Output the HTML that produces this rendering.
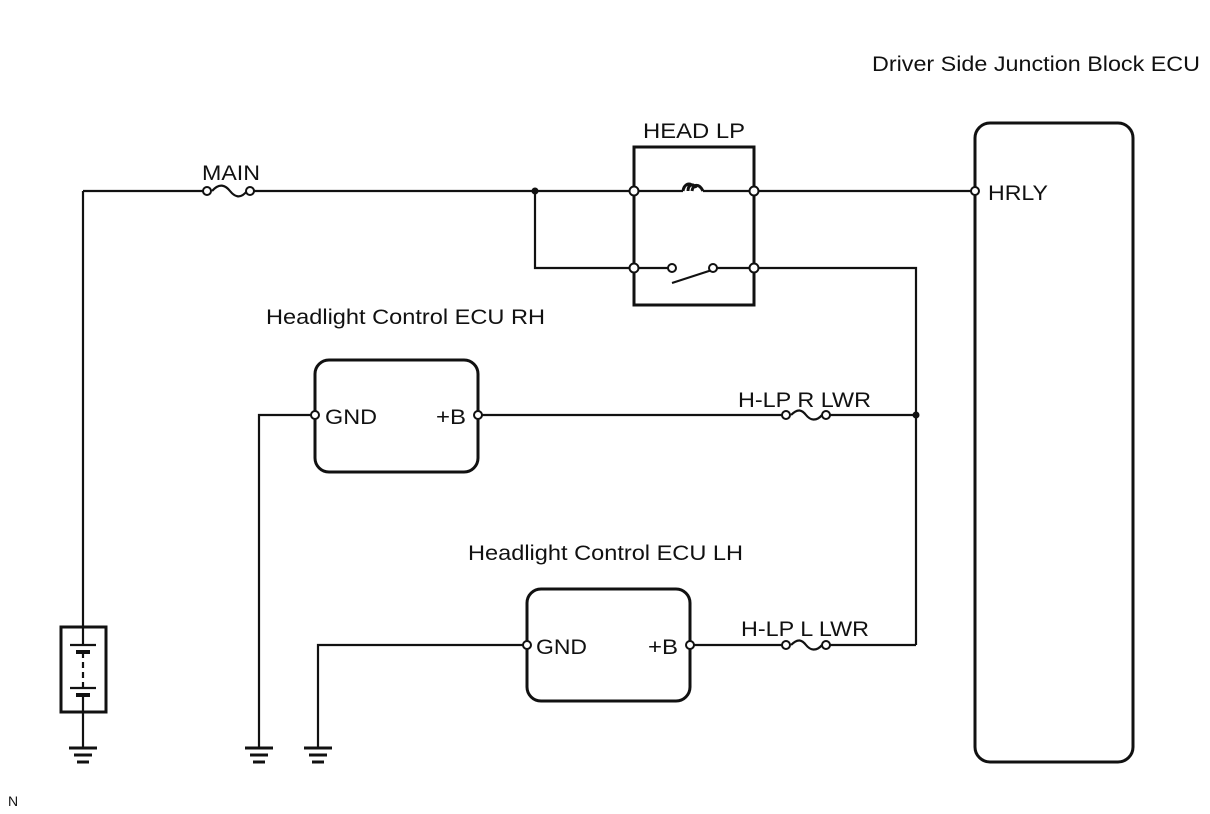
<!DOCTYPE html>
<html><head><style>
body{margin:0;background:#fff;}
svg{display:block;}
text{font-family:"Liberation Sans",Arial,sans-serif;font-size:21px;fill:#111;}
</style></head><body>
<svg width="1210" height="814" viewBox="0 0 1210 814" xmlns="http://www.w3.org/2000/svg">
<g stroke="#111" stroke-width="2.2" fill="none">
<line x1="83" y1="191" x2="203" y2="191"/>
<line x1="254" y1="191" x2="630" y2="191"/>
<line x1="638" y1="191" x2="683" y2="191"/>
<line x1="703" y1="191" x2="750" y2="191"/>
<line x1="758" y1="191" x2="971" y2="191"/>
<line x1="83" y1="191" x2="83" y2="748"/>
<path d="M212,191 C220,182 226,186 230,191 C234,196 240,200 247,191"/>
<polyline points="535,191 535,268 630,268"/>
<line x1="638" y1="268" x2="668" y2="268"/>
<line x1="717" y1="268" x2="750" y2="268"/>
<line x1="672" y1="283" x2="712" y2="270"/>
<polyline points="758,268 916,268 916,645"/>
<rect x="634" y="147" width="120" height="158" stroke-width="3"/>
<path d="M683,191 C684,184 690,182 692,186 M688,191 C688,184 694,183 696,188 M692,191 C693,184 699,183 703,191" stroke-width="3"/>
<line x1="482" y1="415" x2="782" y2="415"/>
<path d="M791,415 C798,408 802,410 806,415 C810,420 816,422 822,415"/>
<line x1="830" y1="415" x2="916" y2="415"/>
<rect x="315" y="360" width="163" height="112" rx="14" stroke-width="3"/>
<polyline points="311,415 259,415 259,748"/>
<line x1="694" y1="645" x2="782" y2="645"/>
<path d="M791,645 C798,638 802,640 806,645 C810,650 816,652 822,645"/>
<line x1="830" y1="645" x2="916" y2="645"/>
<rect x="527" y="589" width="163" height="112" rx="14" stroke-width="3"/>
<polyline points="523,645 318,645 318,748"/>
<rect x="975" y="123" width="158" height="639" rx="15" stroke-width="3"/>
<rect x="61" y="627" width="45" height="85" stroke-width="3" fill="#fff"/>
<line x1="83" y1="627" x2="83" y2="645"/>
<line x1="70" y1="645" x2="96" y2="645"/>
<line x1="76" y1="652" x2="90" y2="652" stroke-width="4"/>
<line x1="83" y1="652" x2="83" y2="688" stroke-dasharray="6,4"/>
<line x1="70" y1="688" x2="96" y2="688"/>
<line x1="76" y1="695" x2="90" y2="695" stroke-width="4"/>
<line x1="83" y1="695" x2="83" y2="712"/>
</g>
<g stroke="#111" stroke-width="3">
<line x1="69" y1="748" x2="97" y2="748"/><line x1="74" y1="755" x2="92" y2="755"/><line x1="77" y1="762" x2="89" y2="762"/>
<line x1="245" y1="748" x2="273" y2="748"/><line x1="250" y1="755" x2="268" y2="755"/><line x1="253" y1="762" x2="265" y2="762"/>
<line x1="304" y1="748" x2="332" y2="748"/><line x1="309" y1="755" x2="327" y2="755"/><line x1="312" y1="762" x2="324" y2="762"/>
</g>
<g stroke="#111" stroke-width="2" fill="#fff">
<circle cx="207" cy="191" r="4"/><circle cx="250" cy="191" r="4"/>
<circle cx="634" cy="191" r="4.5"/><circle cx="754" cy="191" r="4.5"/>
<circle cx="634" cy="268" r="4.5"/><circle cx="754" cy="268" r="4.5"/>
<circle cx="672" cy="268" r="4"/><circle cx="713" cy="268" r="4"/>
<circle cx="975" cy="191" r="4"/>
<circle cx="315" cy="415" r="4"/><circle cx="478" cy="415" r="4"/>
<circle cx="786" cy="415" r="4"/><circle cx="826" cy="415" r="4"/>
<circle cx="527" cy="645" r="4"/><circle cx="690" cy="645" r="4"/>
<circle cx="786" cy="645" r="4"/><circle cx="826" cy="645" r="4"/>
</g>
<circle cx="535" cy="191" r="3.5" fill="#111"/>
<circle cx="916" cy="415" r="3.5" fill="#111"/>
<text x="872" y="71" textLength="328" lengthAdjust="spacingAndGlyphs">Driver Side Junction Block ECU</text>
<text x="643" y="138" textLength="102" lengthAdjust="spacingAndGlyphs">HEAD LP</text>
<text x="202" y="180" textLength="58" lengthAdjust="spacingAndGlyphs">MAIN</text>
<text x="988" y="200" textLength="60" lengthAdjust="spacingAndGlyphs">HRLY</text>
<text x="266" y="324" textLength="279" lengthAdjust="spacingAndGlyphs">Headlight Control ECU RH</text>
<text x="325" y="424" textLength="52" lengthAdjust="spacingAndGlyphs">GND</text>
<text x="436" y="424" textLength="30" lengthAdjust="spacingAndGlyphs">+B</text>
<text x="738" y="407" textLength="133" lengthAdjust="spacingAndGlyphs">H-LP R LWR</text>
<text x="468" y="560" textLength="275" lengthAdjust="spacingAndGlyphs">Headlight Control ECU LH</text>
<text x="536" y="654" textLength="51" lengthAdjust="spacingAndGlyphs">GND</text>
<text x="648" y="654" textLength="30" lengthAdjust="spacingAndGlyphs">+B</text>
<text x="741" y="636" textLength="128" lengthAdjust="spacingAndGlyphs">H-LP L LWR</text>
<text x="8" y="806" style="font-size:14px">N</text>
</svg>
</body></html>
